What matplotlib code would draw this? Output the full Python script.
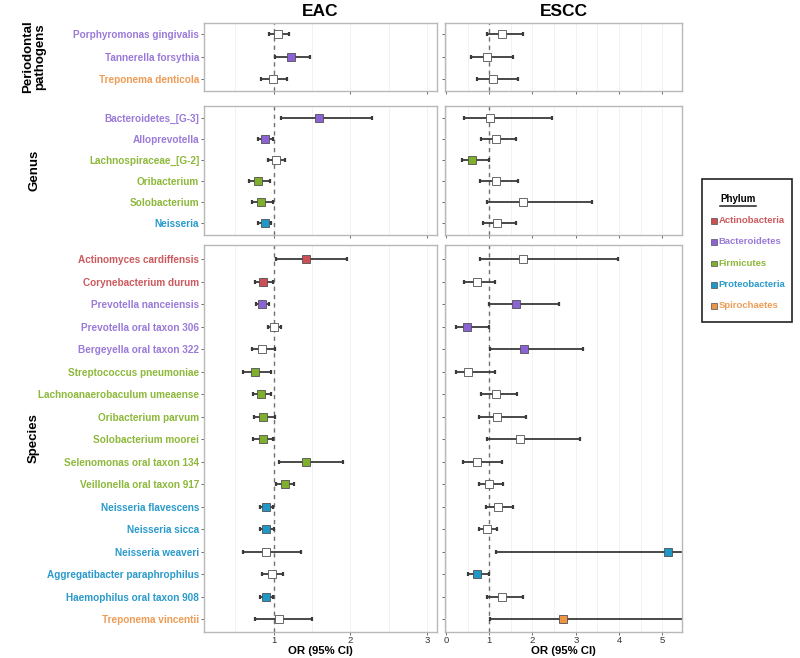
import matplotlib
matplotlib.use("Agg")
import matplotlib.pyplot as plt
from matplotlib.patches import Rectangle
from matplotlib.lines import Line2D

plt.rcParams['font.family'] = ['Liberation Sans', 'DejaVu Sans']

# ---------------- data ----------------
phyla = ["Actinobacteria", "Bacteroidetes", "Firmicutes", "Proteobacteria", "Spirochaetes"]
phylum_colors = ["#CB4F54", "#8C63D5", "#7FAF2C", "#1F98C8", "#EE9445"]
label_colors = ["#CB5A5E", "#9A7AD9", "#8DB83A", "#2A9ACB", "#EE9C55"]

perio_names = ["Porphyromonas gingivalis", "Tannerella forsythia", "Treponema denticola"]
perio_phylum = ["Bacteroidetes", "Bacteroidetes", "Spirochaetes"]
perio_eac_or = [1.05, 1.22, 0.99]
perio_eac_lo = [0.935, 1.01, 0.83]
perio_eac_hi = [1.20, 1.47, 1.17]
perio_eac_sig = [False, True, False]
perio_escc_or = [1.29, 0.95, 1.09]
perio_escc_lo = [0.95, 0.57, 0.72]
perio_escc_hi = [1.78, 1.56, 1.66]
perio_escc_sig = [False, False, False]

genus_names = ["Bacteroidetes_[G-3]", "Alloprevotella", "Lachnospiraceae_[G-2]",
               "Oribacterium", "Solobacterium", "Neisseria"]
genus_phylum = ["Bacteroidetes", "Bacteroidetes", "Firmicutes", "Firmicutes",
                "Firmicutes", "Proteobacteria"]
genus_eac_or = [1.59, 0.89, 1.03, 0.80, 0.84, 0.88]
genus_eac_lo = [1.10, 0.79, 0.92, 0.68, 0.72, 0.80]
genus_eac_hi = [2.28, 0.995, 1.15, 0.95, 0.995, 0.97]
genus_eac_sig = [True, True, False, True, True, True]
genus_escc_or = [1.02, 1.15, 0.61, 1.16, 1.79, 1.18]
genus_escc_lo = [0.43, 0.81, 0.37, 0.79, 0.95, 0.86]
genus_escc_hi = [2.44, 1.63, 0.99, 1.67, 3.38, 1.63]
genus_escc_sig = [False, False, True, False, False, False]

species_names = ["Actinomyces cardiffensis", "Corynebacterium durum", "Prevotella nanceiensis",
                 "Prevotella oral taxon 306", "Bergeyella oral taxon 322",
                 "Streptococcus pneumoniae", "Lachnoanaerobaculum umeaense",
                 "Oribacterium parvum", "Solobacterium moorei", "Selenomonas oral taxon 134",
                 "Veillonella oral taxon 917", "Neisseria flavescens", "Neisseria sicca",
                 "Neisseria weaveri", "Aggregatibacter paraphrophilus",
                 "Haemophilus oral taxon 908", "Treponema vincentii"]
species_phylum = ["Actinobacteria", "Actinobacteria", "Bacteroidetes", "Bacteroidetes",
                  "Bacteroidetes", "Firmicutes", "Firmicutes", "Firmicutes", "Firmicutes",
                  "Firmicutes", "Firmicutes", "Proteobacteria", "Proteobacteria",
                  "Proteobacteria", "Proteobacteria", "Proteobacteria", "Spirochaetes"]
species_eac_or = [1.42, 0.86, 0.85, 1.00, 0.85, 0.76, 0.84, 0.86, 0.86, 1.42, 1.15,
                  0.895, 0.90, 0.895, 0.98, 0.90, 1.065]
species_eac_lo = [1.03, 0.75, 0.77, 0.92, 0.71, 0.60, 0.73, 0.74, 0.73, 1.07, 1.03,
                  0.825, 0.82, 0.595, 0.85, 0.825, 0.76]
species_eac_hi = [1.96, 0.985, 0.94, 1.09, 1.02, 0.97, 0.97, 1.01, 0.995, 1.90, 1.27,
                  0.985, 1.00, 1.35, 1.125, 0.995, 1.50]
species_eac_sig = [True, True, True, False, False, True, True, True, True, True, True,
                   True, True, False, False, True, False]
species_escc_or = [1.78, 0.71, 1.62, 0.49, 1.81, 0.52, 1.15, 1.18, 1.71, 0.72, 1.00,
                   1.20, 0.95, 5.13, 0.71, 1.29, 2.70]
species_escc_lo = [0.79, 0.43, 1.00, 0.24, 1.02, 0.23, 0.80, 0.77, 0.95, 0.39, 0.77,
                   0.92, 0.76, 1.16, 0.50, 0.96, 1.01]
species_escc_hi = [3.98, 1.13, 2.61, 0.99, 3.17, 1.14, 1.64, 1.84, 3.10, 1.30, 1.33,
                   1.56, 1.18, 6.50, 0.99, 1.77, 7.00]
species_escc_sig = [False, False, True, True, True, False, False, False, False, False,
                    False, False, False, True, True, False, True]

groups = [
    ("Periodontal\npathogens", perio_names, perio_phylum,
     (perio_eac_or, perio_eac_lo, perio_eac_hi, perio_eac_sig),
     (perio_escc_or, perio_escc_lo, perio_escc_hi, perio_escc_sig)),
    ("Genus", genus_names, genus_phylum,
     (genus_eac_or, genus_eac_lo, genus_eac_hi, genus_eac_sig),
     (genus_escc_or, genus_escc_lo, genus_escc_hi, genus_escc_sig)),
    ("Species", species_names, species_phylum,
     (species_eac_or, species_eac_lo, species_eac_hi, species_eac_sig),
     (species_escc_or, species_escc_lo, species_escc_hi, species_escc_sig)),
]

eac_ticks = [1, 2, 3]
escc_ticks = [0, 1, 2, 3, 4, 5]

# ---------------- layout ----------------
W, H = 800, 658
fig = plt.figure(figsize=(W / 100, H / 100), dpi=100)

def frac(x0, y0, x1, y1):
    return [x0 / W, 1 - y1 / H, (x1 - x0) / W, (y1 - y0) / H]

col_x = [(204, 437), (445, 682.3)]
row_y = [(22.7, 90.7), (105.7, 235.0), (244.7, 631.7)]
ylims = [(3.51, 0.49), (6.56, 0.42), (17.56, 0.36)]
xlims = [(0.09, 3.13), (-0.02, 5.46)]
grid_major = [eac_ticks, escc_ticks]
grid_minor = [[0.5, 1.5, 2.5], [0.5, 1.5, 2.5, 3.5, 4.5]]

pcol = dict(zip(phyla, phylum_colors))
lcol = dict(zip(phyla, label_colors))
edge_gray = "#B8B8B8"

for r, (gname, names, phy, eac, escc) in enumerate(groups):
    n = len(names)
    ypos = list(range(1, n + 1))
    for c, (vals, ticks) in enumerate([(eac, eac_ticks), (escc, escc_ticks)]):
        ax = fig.add_axes(frac(col_x[c][0], row_y[r][0], col_x[c][1], row_y[r][1]))
        orv, lo, hi, sig = vals
        ax.set_xlim(*xlims[c])
        ax.set_ylim(*ylims[r])
        for g in grid_major[c] + grid_minor[c]:
            ax.axvline(g, color="#F0F0F0", lw=0.6, zorder=0)
        ax.axvline(1, color="#707070", lw=1.0, ls=(0, (3, 3)), zorder=1)
        for i in range(n):
            ax.plot([lo[i], hi[i]], [ypos[i], ypos[i]], color="#3A3A3A", lw=1.3,
                    solid_capstyle="butt", zorder=2)
            ax.plot([lo[i], hi[i]], [ypos[i], ypos[i]], ls="none", marker="|", ms=2.5,
                    mew=1.6, color="#3A3A3A", zorder=2)
            fc = pcol[phy[i]] if sig[i] else "white"
            ax.plot([orv[i]], [ypos[i]], marker="s", ms=6, mfc=fc, mec="#505050",
                    mew=0.6, ls="none", zorder=3)
        for s in ax.spines.values():
            s.set_color(edge_gray)
            s.set_linewidth(1.0)
        ax.set_xticks(ticks)
        ax.tick_params(axis="x", length=2, width=0.6, color="#555555", labelsize=6.8,
                       labelcolor="#333333", pad=1)
        ax.set_yticks(ypos)
        ax.tick_params(axis="y", length=2.5, width=0.6, color="#555555", pad=1)
        if c == 0:
            ax.set_yticklabels(names, fontsize=7.2, fontweight="bold")
            for tl, p in zip(ax.get_yticklabels(), phy):
                tl.set_color(lcol[p])
        else:
            ax.set_yticklabels([])
        xc = (col_x[c][0] + col_x[c][1]) / 2
        if r < 2:
            ax.set_xticklabels([])
        else:
            fig.text(xc / W, 1 - 651.5 / H, "OR (95% CI)", ha="center", va="center",
                     fontsize=8.2, fontweight="bold")
        if r == 0:
            fig.text(xc / W, 1 - 11 / H, ["EAC", "ESCC"][c], ha="center", va="center",
                     fontsize=12.5, fontweight="bold")
    # strip label on the left
    yc = (row_y[r][0] + row_y[r][1]) / 2
    fig.text(34 / W, 1 - yc / H, gname, rotation=90, ha="center", va="center",
             fontsize=9.5, fontweight="bold", linespacing=0.95)

# ---------------- legend ----------------
lx0, ly0, lx1, ly1 = 702, 179.3, 791.7, 321.7
fig.patches.append(Rectangle((lx0 / W, 1 - ly1 / H), (lx1 - lx0) / W, (ly1 - ly0) / H,
                             transform=fig.transFigure, fill=False, ec="#222222", lw=1.2))
fig.text(738 / W, 1 - 199.5 / H, "Phylum", ha="center", va="center", fontsize=7,
         fontweight="bold")
fig.add_artist(Line2D([720 / W, 756 / W], [1 - 206 / H, 1 - 206 / H], color="#222222",
                      lw=1.1, transform=fig.transFigure))
leg_y = [221, 242, 263.7, 285, 306]
for p, y in zip(phyla, leg_y):
    fig.patches.append(Rectangle((711 / W, 1 - (y + 2.7) / H), 5.5 / W, 5.5 / H,
                                 transform=fig.transFigure, fc=pcol[p], ec="#505050",
                                 lw=0.5))
    fig.text(718.5 / W, 1 - y / H, p, ha="left", va="center", fontsize=6.8,
             fontweight="bold", color=lcol[p])

fig.savefig("out.png", dpi=100)
